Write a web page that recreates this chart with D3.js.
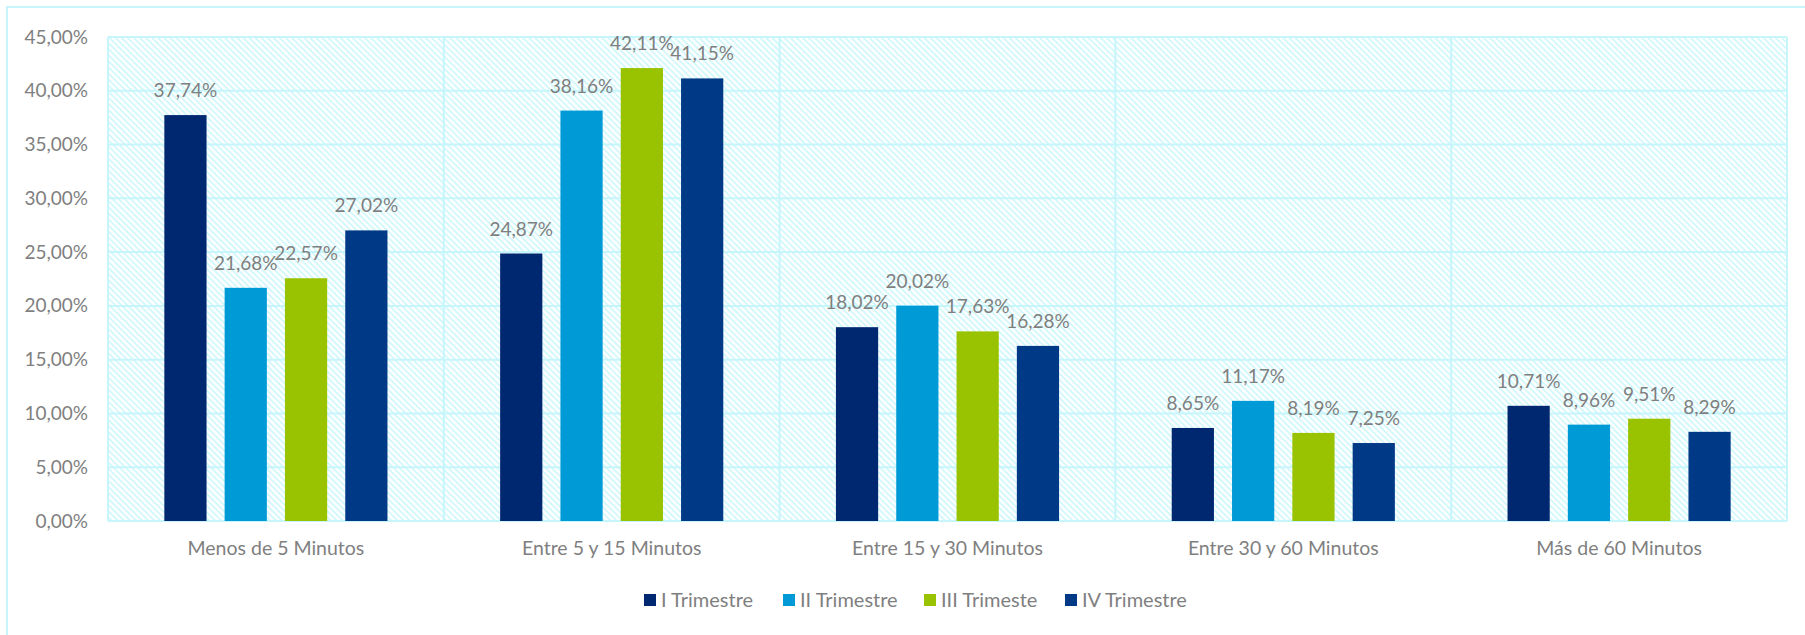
<!DOCTYPE html>
<html>
<head>
<meta charset="utf-8">
<script src="https://cdn.jsdelivr.net/npm/d3@7"></script>
<style>
  html, body { margin: 0; padding: 0; background: #ffffff; }
  svg { display: block; }
  text { font-family: Lato, "Open Sans", sans-serif; fill: #7f7f7f; }
</style>
</head>
<body>
<svg id="chart" width="1805" height="635"></svg>
<script>
// Distribución del tiempo por trimestre
const categories = ["Menos de 5 Minutos", "Entre 5 y 15 Minutos", "Entre 15 y 30 Minutos", "Entre 30 y 60 Minutos", "Más de 60 Minutos"];
const seriesNames = ["I Trimestre", "II Trimestre", "III Trimeste", "IV Trimestre"];
const seriesColors = ["#002870", "#009ad6", "#99c300", "#003a87"];
const trimestreI   = [37.74, 24.87, 18.02, 8.65, 10.71];
const trimestreII  = [21.68, 38.16, 20.02, 11.17, 8.96];
const trimestreIII = [22.57, 42.11, 17.63, 8.19, 9.51];
const trimestreIV  = [27.02, 41.15, 16.28, 7.25, 8.29];
const yTicks = [0, 5, 10, 15, 20, 25, 30, 35, 40, 45];

const seriesValues = [trimestreI, trimestreII, trimestreIII, trimestreIV];
const fmt = v => v.toFixed(2).replace(".", ",") + "%";

const svg = d3.select("#chart");
const plot = { left: 108, right: 1787, top: 37, bottom: 521 };
const lineColor = "#c6f6fb";

// Diagonal hatch fill for the plot area
const defs = svg.append("defs");
const pat = defs.append("pattern")
  .attr("id", "hatch")
  .attr("patternUnits", "userSpaceOnUse")
  .attr("width", 4.3).attr("height", 4.3)
  .attr("patternTransform", "rotate(45)");
pat.append("rect").attr("width", 4.3).attr("height", 4.3).attr("fill", "#ffffff");
pat.append("rect").attr("width", 4.3).attr("height", 1.9).attr("fill", "#d3f8fc");

// Outer chart frame
svg.append("rect")
  .attr("x", 7).attr("y", 7).attr("width", 1830).attr("height", 660)
  .attr("fill", "none").attr("stroke", lineColor).attr("stroke-width", 2);

const x0 = d3.scaleBand().domain(categories).range([plot.left, plot.right]).padding(0);
const x1 = d3.scaleBand().domain(seriesNames).range([0, x0.bandwidth()])
  .paddingInner(0.3).paddingOuter(0.934);
const y = d3.scaleLinear().domain([0, 45]).range([plot.bottom, plot.top]);

svg.append("rect")
  .attr("x", plot.left).attr("y", plot.top)
  .attr("width", plot.right - plot.left).attr("height", plot.bottom - plot.top)
  .attr("fill", "url(#hatch)");

// Horizontal gridlines
svg.append("g").selectAll("line").data(yTicks).join("line")
  .attr("x1", plot.left).attr("x2", plot.right)
  .attr("y1", d => y(d)).attr("y2", d => y(d))
  .attr("stroke", lineColor).attr("stroke-width", 2);

// Vertical separators between categories
const seps = categories.map(c => x0(c)).concat([plot.right]);
svg.append("g").selectAll("line").data(seps).join("line")
  .attr("x1", d => d).attr("x2", d => d)
  .attr("y1", plot.top).attr("y2", plot.bottom)
  .attr("stroke", lineColor).attr("stroke-width", 2);

// Y axis labels
const yAxis = d3.axisLeft(y).tickValues(yTicks).tickFormat(d => fmt(d)).tickSize(0).tickPadding(20);
const yg = svg.append("g").attr("transform", `translate(${plot.left},0)`).call(yAxis);
yg.select(".domain").remove();
yg.selectAll("text").attr("font-size", 19).attr("fill", "#7f7f7f")
  .style("font-family", "Lato, 'Open Sans', sans-serif");

// X axis labels
const xAxis = d3.axisBottom(x0).tickSize(0).tickPadding(20);
const xg = svg.append("g").attr("transform", `translate(0,${plot.bottom})`).call(xAxis);
xg.select(".domain").remove();
xg.selectAll("text").attr("font-size", 19.5).attr("fill", "#7f7f7f")
  .style("font-family", "Lato, 'Open Sans', sans-serif");

// Bars and value labels
const rows = [];
categories.forEach((c, ci) => {
  seriesNames.forEach((s, si) => {
    rows.push({ cat: c, ser: s, color: seriesColors[si], value: seriesValues[si][ci] });
  });
});

const groups = svg.append("g");
groups.selectAll("rect").data(rows).join("rect")
  .attr("x", d => x0(d.cat) + x1(d.ser))
  .attr("width", x1.bandwidth())
  .attr("y", d => y(d.value))
  .attr("height", d => y(0) - y(d.value))
  .attr("fill", d => d.color);

groups.selectAll("text").data(rows).join("text")
  .attr("x", d => x0(d.cat) + x1(d.ser) + x1.bandwidth() / 2)
  .attr("y", d => y(d.value) - 18)
  .attr("text-anchor", "middle")
  .attr("font-size", 19)
  .text(d => fmt(d.value));

// Legend
const legendItems = [644, 783, 924, 1065];
const legend = svg.append("g");
seriesNames.forEach((s, i) => {
  const g = legend.append("g").attr("transform", `translate(${legendItems[i]},600)`);
  g.append("rect").attr("x", 0).attr("y", -6).attr("width", 12).attr("height", 12).attr("fill", seriesColors[i]);
  g.append("text").attr("x", 17).attr("y", 0).attr("dy", "0.35em").attr("font-size", 20).text(s);
});
</script>
</body>
</html>
